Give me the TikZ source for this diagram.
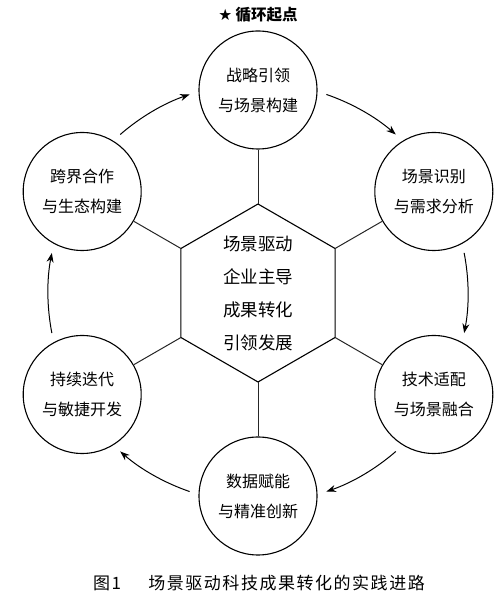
\documentclass[tikz,border=0pt]{standalone}
\usepackage{fontspec}
\setmainfont{Noto Sans CJK SC}
\newfontfamily\symfont{DejaVu Sans}
\newfontfamily\capfont[LetterSpace=9]{Noto Sans CJK SC}
\usetikzlibrary{arrows.meta}
\begin{document}
\begin{tikzpicture}[x=1pt,y=1pt,
  stage/.style={circle,draw,line width=1.1pt,minimum size=118pt,inner sep=0pt,align=center,font=\fontsize{16}{30}\selectfont},
  spoke/.style={draw=black!85,line width=1pt},
  hexline/.style={draw,line width=1.1pt,line join=miter},
  flow/.style={line width=1pt,-{Stealth[length=9.5pt,width=7pt]}}]
\useasboundingbox (0,0) rectangle (500,602);
\coordinate (C) at (258,309);
% stages
\node[stage] (s1) at ([shift={(C)}]90:203) {战略引领\\与场景构建};
\node[stage] (s2) at ([shift={(C)}]30:203) {场景识别\\与需求分析};
\node[stage] (s3) at ([shift={(C)}]-30:203) {技术适配\\与场景融合};
\node[stage] (s4) at ([shift={(C)}]-90:203) {数据赋能\\与精准创新};
\node[stage] (s5) at ([shift={(C)}]-150:203) {持续迭代\\与敏捷开发};
\node[stage] (s6) at ([shift={(C)}]150:203) {跨界合作\\与生态构建};
% hexagon
\coordinate (h1) at ([shift={(C)}]90:89);
\coordinate (h2) at ([shift={(C)}]30:89);
\coordinate (h3) at ([shift={(C)}]-30:89);
\coordinate (h4) at ([shift={(C)}]-90:89);
\coordinate (h5) at ([shift={(C)}]-150:89);
\coordinate (h6) at ([shift={(C)}]150:89);
\draw[hexline] (h1)--(h2)--(h3)--(h4)--(h5)--(h6)--cycle;
\node[align=center,font=\fontsize{17.5}{33}\selectfont] (core) at (C) {场景驱动\\企业主导\\成果转化\\引领发展};
% spokes
\draw[spoke] (h1) -- (s1);
\draw[spoke] (h2) -- (s2);
\draw[spoke] (h3) -- (s3);
\draw[spoke] (h4) -- (s4);
\draw[spoke] (h5) -- (s5);
\draw[spoke] (h6) -- (s6);
% flow arcs
\coordinate (a1) at ([shift={(C)}]71:210);
\coordinate (a2) at ([shift={(C)}]11:210);
\coordinate (a3) at ([shift={(C)}]-49:210);
\coordinate (a4) at ([shift={(C)}]-109:210);
\coordinate (a5) at ([shift={(C)}]-169:210);
\coordinate (a6) at ([shift={(C)}]131:210);
\draw[flow] (a1) arc[start angle=71,end angle=49,radius=210];
\draw[flow] (a2) arc[start angle=11,end angle=-11,radius=210];
\draw[flow] (a3) arc[start angle=-49,end angle=-71,radius=210];
\draw[flow] (a4) arc[start angle=-109,end angle=-131,radius=210];
\draw[flow] (a5) arc[start angle=-169,end angle=-191,radius=210];
\draw[flow] (a6) arc[start angle=131,end angle=109,radius=210];
% texts
\node[font=\bfseries\fontsize{15.5}{18}\selectfont] (title) at (258,587) {{\symfont ★} 循环起点};
\node[font=\capfont\fontsize{17}{20}\selectfont] (cap) at (259,19) {图1\hspace{1.6em}场景驱动科技成果转化的实践进路};
\end{tikzpicture}
\end{document}
